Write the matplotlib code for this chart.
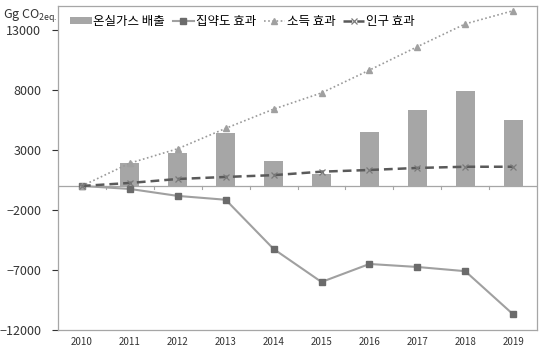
import numpy as np
import matplotlib.pyplot as plt

plt.rcParams['font.family'] = ['Noto Sans CJK KR', 'DejaVu Sans']
plt.rcParams['axes.unicode_minus'] = False

years = ['2010', '2011', '2012', '2013', '2014', '2015', '2016', '2017', '2018', '2019']
emissions = [0, 1900, 2750, 4400, 2100, 1000, 4500, 6300, 7900, 5500]
intensity = [0, -250, -830, -1150, -5250, -8000, -6500, -6750, -7100, -10700]
income = [0, 1900, 3100, 4800, 6400, 7750, 9650, 11600, 13500, 14600]
population = [0, 250, 580, 750, 900, 1190, 1330, 1500, 1600, 1600]

series_labels = ['온실가스 배출', '집약도 효과', '소득 효과', '인구 효과']
yticks = [-12000, -7000, -2000, 3000, 8000, 13000]

x = np.arange(len(years))
spine_col = '#a6a6a6'

fig = plt.figure(figsize=(5.42, 3.47), dpi=100)
ax = fig.add_axes([0.107, 0.049, 0.884, 0.934])

# bars first, lines on top
bars = ax.bar(x, emissions, width=0.4, color='#a6a6a6', label=series_labels[0], zorder=2)
ax.axhline(0, color=spine_col, lw=0.9, zorder=1)
# small category boundary ticks on the zero line
for b in np.arange(-0.5, len(years), 1.0):
    ax.plot([b, b], [0, -250], color=spine_col, lw=0.8, zorder=1)

l1, = ax.plot(x, intensity, color='#a0a0a0', lw=1.5, marker='s', ms=4.5,
              mfc='#6b6b6b', mec='#6b6b6b', label=series_labels[1], zorder=3)
l2, = ax.plot(x, income, color='#9a9a9a', lw=1.2, ls=(0, (1, 1.5)), marker='^', ms=4.5,
              mfc='#a0a0a0', mec='#a0a0a0', label=series_labels[2], zorder=3)
l3, = ax.plot(x, population, color='#5a5a5a', lw=1.8, ls=(0, (3.5, 2)), marker='x', ms=4.5,
              mew=0.9, mec='#7a7a7a', label=series_labels[3], zorder=4)

ax.set_xlim(-0.5, len(years) - 0.5)
ax.set_ylim(-12000, 15000)
ax.set_yticks(yticks)
ax.set_yticklabels([str(v) if v >= 0 else '\u2212' + str(-v) for v in yticks], fontsize=9)
ax.set_xticks(x)
ax.set_xticklabels(years, fontsize=7)
ax.tick_params(axis='x', length=0, pad=5, colors='#333333')
ax.tick_params(axis='y', length=4, width=0.8, pad=8, colors='#333333')
for s in ax.spines.values():
    s.set_color(spine_col)
    s.set_linewidth(0.9)
for t in ax.yaxis.get_ticklines():
    t.set_color(spine_col)

ax.legend([bars, l1, l2, l3], series_labels, loc='upper left', bbox_to_anchor=(0.01, 0.995),
          ncol=4, frameon=False, fontsize=9, handlelength=1.7, handleheight=0.4,
          handletextpad=0.15, columnspacing=0.6, borderaxespad=0.2)

fig.text(0.005, 0.948, r'Gg CO$_{\mathregular{2eq.}}$', fontsize=9, color='#333333')

fig.savefig('out.png', dpi=100)
